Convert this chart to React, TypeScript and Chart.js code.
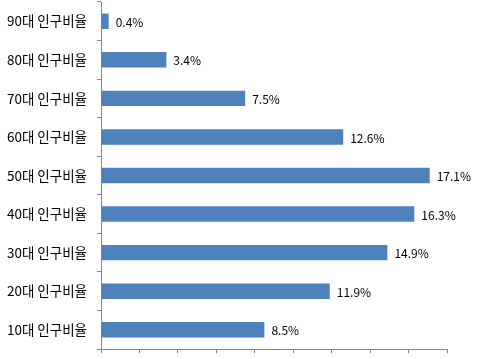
import React, { useEffect, useRef } from "react";
import { Chart, registerables } from "chart.js";

Chart.register(...registerables);

const categories = [
  "90대 인구비율",
  "80대 인구비율",
  "70대 인구비율",
  "60대 인구비율",
  "50대 인구비율",
  "40대 인구비율",
  "30대 인구비율",
  "20대 인구비율",
  "10대 인구비율",
];
const values = [0.004, 0.034, 0.075, 0.126, 0.171, 0.163, 0.149, 0.119, 0.085];
const valueLabels = ["0.4%", "3.4%", "7.5%", "12.6%", "17.1%", "16.3%", "14.9%", "11.9%", "8.5%"];

const FONT = "'Noto Sans CJK KR', 'Noto Sans', sans-serif";
const AXIS_COLOR = "#868686";

const barLabelPlugin = {
  id: "barLabels",
  afterDatasetsDraw(chart: any) {
    const ctx = chart.ctx;
    const meta = chart.getDatasetMeta(0);
    ctx.save();
    ctx.font = `12px ${FONT}`;
    ctx.fillStyle = "#000000";
    ctx.textAlign = "left";
    ctx.textBaseline = "middle";
    meta.data.forEach((bar: any, i: number) => {
      ctx.fillText(valueLabels[i], bar.x + 7, bar.y + 1);
    });
    ctx.restore();
  },
};

export default function App() {
  const ref = useRef<HTMLCanvasElement | null>(null);
  useEffect(() => {
    if (!ref.current) return;
    const chart = new Chart(ref.current, {
      type: "bar",
      data: {
        labels: categories,
        datasets: [
          {
            data: values,
            backgroundColor: "#4F81BD",
            borderWidth: 0,
            categoryPercentage: 0.4,
            barPercentage: 1.0,
          },
        ],
      },
      options: {
        indexAxis: "y",
        animation: false,
        responsive: true,
        maintainAspectRatio: false,
        layout: { padding: { top: 2, right: 32, left: 0, bottom: 0 } },
        plugins: {
          legend: { display: false },
          tooltip: { enabled: false },
        },
        scales: {
          x: {
            min: 0,
            max: 0.18,
            ticks: { stepSize: 0.02, display: false },
            grid: {
              drawOnChartArea: false,
              drawTicks: true,
              tickLength: 4,
              color: AXIS_COLOR,
            },
            border: { color: AXIS_COLOR, width: 1 },
            afterFit(scale: any) {
              scale.height = 10;
              scale.paddingLeft = 0;
              scale.paddingRight = 0;
            },
          },
          y: {
            ticks: {
              color: "#000000",
              font: { family: FONT, size: 13.5 },
              padding: 10,
            },
            grid: {
              drawOnChartArea: false,
              drawTicks: true,
              tickLength: 4,
              color: AXIS_COLOR,
              offset: true,
            },
            border: { color: AXIS_COLOR, width: 1 },
            afterFit(scale: any) {
              scale.width = 101;
              scale.paddingTop = 0;
              scale.paddingBottom = 0;
            },
          },
        },
      },
      plugins: [barLabelPlugin],
    });
    return () => chart.destroy();
  }, []);
  return (
    <div style={{ position: "absolute", left: 0, top: 0, width: 479, height: 359, background: "#fff" }}>
      <canvas ref={ref} />
    </div>
  );
}
